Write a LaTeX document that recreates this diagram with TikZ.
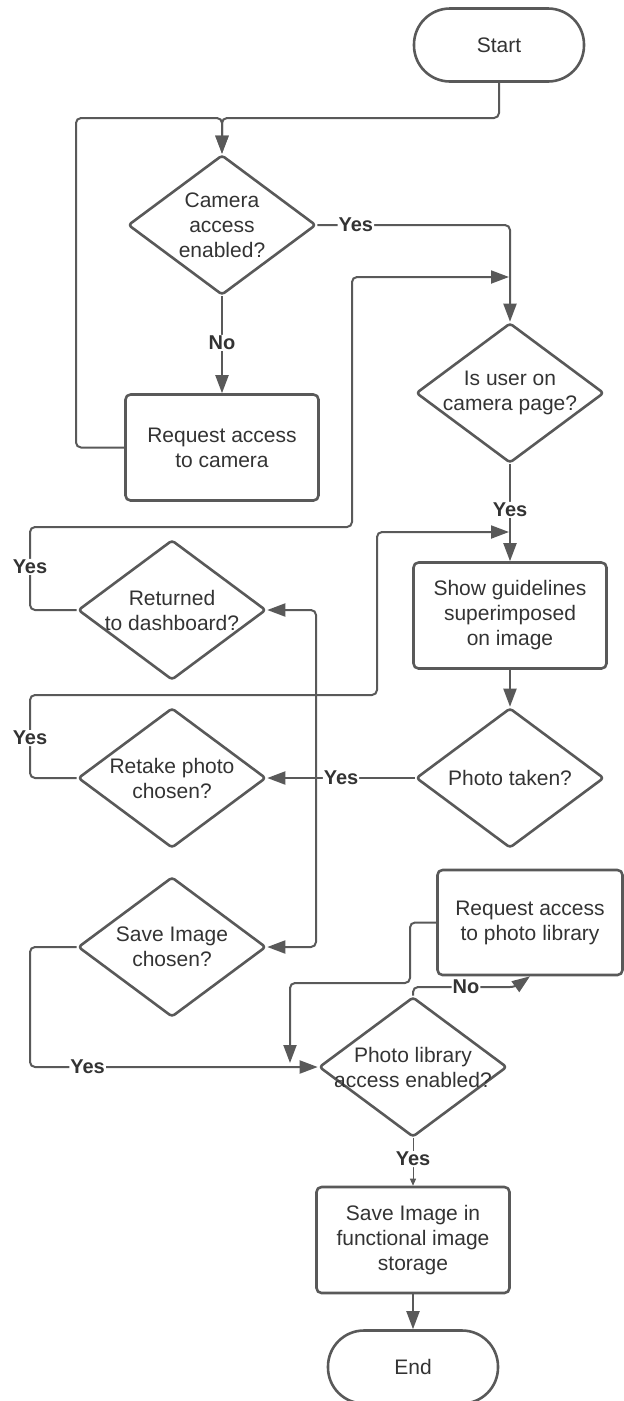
\documentclass[tikz,border=0pt]{standalone}
\usepackage{fontspec}
\setmainfont{Liberation Sans}
\usetikzlibrary{shapes.geometric,arrows.meta}
\definecolor{edge}{HTML}{595959}
\definecolor{ink}{HTML}{333333}
\tikzset{
  base/.style = {draw=edge, line width=2.6pt, line join=round, text=ink,
    font=\fontsize{21}{25}\selectfont, align=center},
  term/.style = {base, rectangle, rounded corners=36pt, minimum width=170pt, minimum height=73pt},
  proc/.style = {base, rectangle, rounded corners=5pt, minimum width=193pt, minimum height=106pt},
  dec/.style = {base, diamond, rounded corners=3pt, inner sep=0pt, minimum width=188pt, minimum height=140pt},
  txt/.style = {text=ink, font=\fontsize{21}{25}\selectfont, align=center},
  arr/.style = {draw=edge, line width=2pt, rounded corners=5pt, -{Triangle[length=18pt,width=13pt]}},
  lbl/.style = {fill=white, text=ink, font=\fontsize{20}{24}\selectfont\bfseries, inner sep=1pt}
}
\begin{document}
\begin{tikzpicture}[x=1pt, y=-1pt]
  \useasboundingbox (0,0) rectangle (624,1401);
  \node[term] (start) at (499, 45) {Start}; % top right
  \node[dec, label={[txt]center:Camera\\access\\enabled?}] (cam) at (222, 225) {};
  \node[proc] (reqcam) at (222, 447.5) {Request access\\to camera};
  \node[dec, label={[txt]center:Is user on\\camera page?}] (user) at (510, 393) {};
  \node[proc] (guide) at (510, 615.5) {Show guidelines\\superimposed\\on image};
  \node[dec, label={[txt]center:Photo taken?}] (taken) at (510, 778) {};
  \node[dec, label={[txt]center:Returned\\to dashboard?}] (dash) at (172, 610) {}; % left column
  \node[dec, label={[txt]center:Retake photo\\chosen?}] (retake) at (172, 778) {};
  \node[dec, label={[txt]center:Save Image\\chosen?}] (savech) at (172, 947) {};
  \node[proc, minimum width=185pt, minimum height=105pt] (reqlib) at (530, 922.5) {Request access\\to photo library};
  \node[dec, label={[txt]center:Photo library\\access enabled?}] (lib) at (413, 1067) {};
  \node[proc] (store) at (413, 1240) {Save Image in\\functional image\\storage};
  \node[term] (end) at (413, 1367) {End}; % bottom

  \draw[arr] (start.south) |- (222, 118) -- (cam.north);
  \draw[arr] (reqcam.west) -| (76, 118) -| (cam.north);
  \draw[arr] (cam.south) -- node[lbl, pos=.48] {No} (reqcam.north);
  \draw[arr] (cam.east) -| node[lbl, pos=.1] {Yes} (user.north);
  \draw[arr] (dash.west) -| node[lbl, pos=.76] {Yes} (30, 527) -| (352, 277) -- (509, 277);
  \draw[arr] (user.south) -- node[lbl, pos=.47] {Yes} (guide.north);
  \draw[arr] (retake.west) -| node[lbl, pos=.74] {Yes} (30, 695) -| (377, 532) -- (509, 532);
  \draw[arr] (guide.south) -- (taken.north);
  \draw[arr] (taken.west) -- node[lbl, pos=.5] {Yes} (retake.east);
  \draw[arr, {Triangle[length=18pt,width=13pt]}-{Triangle[length=18pt,width=13pt]}]
    (dash.east) -- (316, 610) -- (316, 947) -- (savech.east);
  \draw[arr] (savech.west) -- (30, 947) |- node[lbl, pos=.6] {Yes} (lib.west);
  \draw[arr] (reqlib.west) -| (410, 983) -| (290, 1063);
  \draw[arr] (lib.north) |- node[lbl, pos=.76] {No} (515, 987) -- (reqlib.south);
  \draw[arr, line width=1pt, -{Triangle[length=7pt,width=6pt]}] (lib.south) -- node[lbl, pos=.44] {Yes} (store.north);
  \draw[arr] (store.south) -- (end.north);
\end{tikzpicture}
\end{document}
